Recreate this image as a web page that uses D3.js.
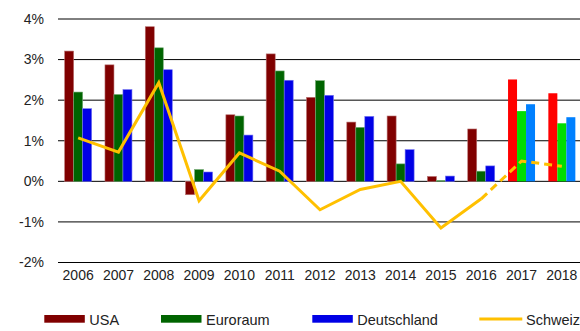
<!DOCTYPE html>
<html>
<head>
<meta charset="utf-8">
<script src="https://cdn.jsdelivr.net/npm/d3@7/dist/d3.min.js"></script>
<style>
  html, body { margin: 0; padding: 0; background: #fff; }
  svg { display: block; font-family: "Liberation Sans", Arial, sans-serif; }
</style>
</head>
<body>
<svg id="chart" width="580" height="331"></svg>
<script>
// GDP growth, year over year (%)
const years = ["2006","2007","2008","2009","2010","2011","2012","2013","2014","2015","2016","2017","2018"];
const forecastYears = ["2017","2018"];
const usa         = [3.21, 2.87, 3.81, -0.33, 1.64, 3.14, 2.07, 1.46, 1.61, 0.12, 1.29, 2.51, 2.17];
const euroraum    = [2.20, 2.14, 3.29,  0.29, 1.61, 2.72, 2.48, 1.33, 0.43, 0.02, 0.25, 1.73, 1.43];
const deutschland = [1.79, 2.26, 2.75,  0.23, 1.14, 2.49, 2.12, 1.60, 0.78, 0.13, 0.38, 1.90, 1.58];
const schweiz     = [1.07, 0.72, 2.43, -0.48, 0.70, 0.25, -0.70, -0.20, 0.00, -1.15, -0.43, 0.50, 0.37];
const yTicks = [-2, -1, 0, 1, 2, 3, 4];

const barSeries = [
  { name: "USA",         values: usa,         color: "#800000", forecast: "#ff0000" },
  { name: "Euroraum",    values: euroraum,    color: "#006400", forecast: "#00dd00" },
  { name: "Deutschland", values: deutschland, color: "#0000e6", forecast: "#0080ff" }
];
const lineColor = "#ffc000";

const svg = d3.select("#chart");

const x = d3.scaleBand().domain(years).range([58, 582]).paddingInner(0).paddingOuter(0);
const xSub = d3.scaleBand().domain(barSeries.map(s => s.name))
  .range([0, x.bandwidth()]).paddingInner(0).paddingOuter(0.74);
const y = d3.scaleLinear().domain([-2, 4]).range([262.5, 19]);

// horizontal grid lines
svg.append("g").selectAll("line").data(yTicks).join("line")
  .attr("x1", 58).attr("x2", 580)
  .attr("y1", d => y(d)).attr("y2", d => y(d))
  .attr("stroke", "#000").attr("stroke-width", 1);

// y tick labels
svg.append("g").selectAll("text").data(yTicks).join("text")
  .attr("x", 44).attr("y", d => y(d))
  .attr("dy", "0.35em")
  .attr("text-anchor", "end")
  .attr("font-size", 14).attr("fill", "#222")
  .text(d => d + "%");

// x tick labels
svg.append("g").selectAll("text").data(years).join("text")
  .attr("x", d => x(d) + x.bandwidth() / 2).attr("y", 280)
  .attr("text-anchor", "middle")
  .attr("font-size", 14).attr("fill", "#222")
  .text(d => d);

// bars
const bars = [];
barSeries.forEach(s => {
  years.forEach((yr, i) => {
    bars.push({ series: s, year: yr, value: s.values[i], fc: forecastYears.includes(yr) });
  });
});
svg.append("g").selectAll("rect").data(bars).join("rect")
  .attr("x", d => x(d.year) + xSub(d.series.name))
  .attr("width", xSub.bandwidth())
  .attr("y", d => y(Math.max(0, d.value)))
  .attr("height", d => Math.abs(y(d.value) - y(0)))
  .attr("fill", d => d.fc ? d.series.forecast : d.series.color)
  .attr("stroke", d => d.fc ? "none" : d3.interpolateRgb(d.series.color, "#fff")(0.45))
  .attr("stroke-width", 0.6);

// Schweiz line: actual values solid, forecast dashed
const pts = years.map((yr, i) => ({ year: yr, value: schweiz[i] }));
const line = d3.line().x(d => x(d.year) + x.bandwidth() / 2).y(d => y(d.value));
const lastActual = years.indexOf("2016");
svg.append("path").datum(pts.slice(0, lastActual + 1))
  .attr("d", line).attr("fill", "none")
  .attr("stroke", lineColor).attr("stroke-width", 3).attr("stroke-linejoin", "miter");
svg.append("path").datum(pts.slice(lastActual))
  .attr("d", line).attr("fill", "none")
  .attr("stroke", lineColor).attr("stroke-width", 3)
  .attr("stroke-dasharray", "8,5");

// legend
const legend = svg.append("g").attr("font-size", 14.5).attr("fill", "#222");
const legendItems = [
  { name: "USA",         color: barSeries[0].color, type: "rect", x: 44.3 },
  { name: "Euroraum",    color: barSeries[1].color, type: "rect", x: 161 },
  { name: "Deutschland", color: barSeries[2].color, type: "rect", x: 312.3 },
  { name: "Schweiz",     color: lineColor,          type: "line", x: 479.3 }
];
legendItems.forEach(it => {
  if (it.type === "rect") {
    legend.append("rect").attr("x", it.x).attr("y", 315).attr("width", 40.5).attr("height", 7.7)
      .attr("fill", it.color);
  } else {
    legend.append("line").attr("x1", it.x).attr("x2", it.x + 43).attr("y1", 319).attr("y2", 319)
      .attr("stroke", it.color).attr("stroke-width", 3);
  }
  legend.append("text").attr("x", it.x + (it.type === "rect" ? 45 : 46.7)).attr("y", 319.5).attr("dy", "0.35em")
    .attr("fill", "#222").text(it.name);
});
</script>
</body>
</html>
